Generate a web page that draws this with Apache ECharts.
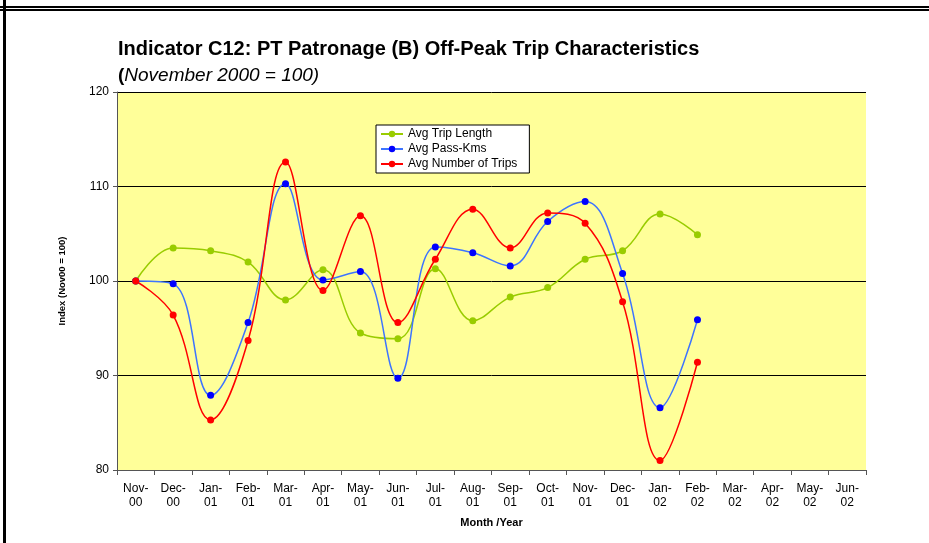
<!DOCTYPE html>
<html lang="en">
<head>
    <meta charset="UTF-8">
    <title>Indicator C12</title>
    <script src="https://cdn.jsdelivr.net/npm/echarts@6/dist/echarts.min.js"></script>
    <style>
        html, body { margin: 0; padding: 0; background: #fff; }
        #main { width: 929px; height: 543px; }
    </style>
</head>
<body>
<div id="main"></div>
<script>
    // 月份
    let months = ['Nov-00', 'Dec-00', 'Jan-01', 'Feb-01', 'Mar-01', 'Apr-01', 'May-01', 'Jun-01', 'Jul-01', 'Aug-01',
        'Sep-01', 'Oct-01', 'Nov-01', 'Dec-01', 'Jan-02', 'Feb-02', 'Mar-02', 'Apr-02', 'May-02', 'Jun-02'];
    // 三条线的数据 (Nov00 = 100)
    let tripLength = [100, 103.5, 103.2, 102.0, 98.0, 101.2, 94.5, 93.9, 101.3, 95.8, 98.3, 99.3, 102.3, 103.2, 107.1, 104.9, null, null, null, null];
    let passKms = [100, 99.7, 87.9, 95.6, 110.3, 100.1, 101.0, 89.7, 103.6, 103.0, 101.6, 106.3, 108.4, 100.8, 86.6, 95.9, null, null, null, null];
    let numTrips = [100, 96.4, 85.3, 93.7, 112.6, 99.0, 106.9, 95.6, 102.3, 107.6, 103.5, 107.2, 106.1, 97.8, 81.0, 91.4, null, null, null, null];
    let yTicks = [80, 90, 100, 110, 120];

    let font = 'Liberation Sans, Arial, sans-serif';

    let myChart = echarts.init(document.getElementById('main'));

    let makeSeries = (name, data, lineColor, dotColor) => {
        return {
            name: name,
            type: 'line',
            data: data,
            smooth: 0.4,
            symbol: 'circle',
            symbolSize: 7,
            lineStyle: {color: lineColor, width: 1.5},
            itemStyle: {color: dotColor},
            emphasis: {disabled: true}
        }
    }

    let option = {
        animation: false,
        textStyle: {fontFamily: font},
        title: {
            left: 118,
            top: 39,
            padding: 0,
            text: 'Indicator C12: PT Patronage (B) Off-Peak Trip Characteristics',
            textStyle: {fontSize: 20, fontWeight: 'bold', color: '#000', fontFamily: font},
            subtext: '{b|(}{i|November 2000 = 100)}',
            itemGap: 7,
            subtextStyle: {
                rich: {
                    b: {fontSize: 19, fontWeight: 'bold', color: '#000', fontFamily: font},
                    i: {fontSize: 19, fontStyle: 'italic', color: '#000', fontFamily: font}
                }
            }
        },
        legend: {
            orient: 'vertical',
            left: 376,
            top: 125,
            backgroundColor: '#fff',
            borderColor: '#000',
            borderWidth: 1,
            borderRadius: 0,
            padding: [3, 12, 3, 4],
            itemGap: 3,
            itemWidth: 22,
            itemHeight: 8,
            textStyle: {fontSize: 12, color: '#000', fontFamily: font, padding: [0, 0, 0, 0]},
            data: ['Avg Trip Length', 'Avg Pass-Kms', 'Avg Number of Trips']
        },
        grid: {
            left: 117,
            right: 63,
            top: 92,
            bottom: 73,
            show: true,
            backgroundColor: '#ffff99',
            borderWidth: 0
        },
        xAxis: {
            type: 'category',
            data: months,
            boundaryGap: true,
            name: 'Month /Year',
            nameLocation: 'middle',
            nameGap: 47,
            nameTextStyle: {fontSize: 11, fontWeight: 'bold', color: '#000', fontFamily: font},
            axisLine: {lineStyle: {color: '#555', width: 1}},
            axisTick: {show: true, length: 5, lineStyle: {color: '#555'}},
            axisLabel: {
                fontSize: 12,
                color: '#000',
                lineHeight: 14,
                margin: 12,
                interval: 0,
                formatter: (v) => v.replace('-', '-\n')
            },
            splitLine: {show: false}
        },
        yAxis: {
            type: 'value',
            min: yTicks[0],
            max: yTicks[yTicks.length - 1],
            interval: 10,
            name: 'Index (Nov00 = 100)',
            nameLocation: 'middle',
            nameGap: 50,
            nameRotate: 90,
            nameTextStyle: {fontSize: 9.5, fontWeight: 'bold', color: '#000', fontFamily: font},
            axisLine: {show: true, lineStyle: {color: '#555', width: 1}},
            axisTick: {show: true, length: 4, lineStyle: {color: '#555'}},
            axisLabel: {fontSize: 12, color: '#000', margin: 8},
            splitLine: {show: true, lineStyle: {color: '#000', width: 1}}
        },
        series: [
            makeSeries('Avg Trip Length', tripLength, '#99cc00', '#99cc00'),
            makeSeries('Avg Pass-Kms', passKms, '#3d74ff', '#0000ff'),
            makeSeries('Avg Number of Trips', numTrips, '#ff0000', '#ff0000')
        ],
        // 外框线
        graphic: [
            {type: 'rect', shape: {x: 0, y: 6, width: 929, height: 2}, style: {fill: '#000'}},
            {type: 'rect', shape: {x: 0, y: 9, width: 929, height: 2}, style: {fill: '#000'}},
            {type: 'rect', shape: {x: 3, y: 0, width: 3, height: 543}, style: {fill: '#000'}}
        ]
    };
    myChart.setOption(option);
</script>
</body>
</html>
